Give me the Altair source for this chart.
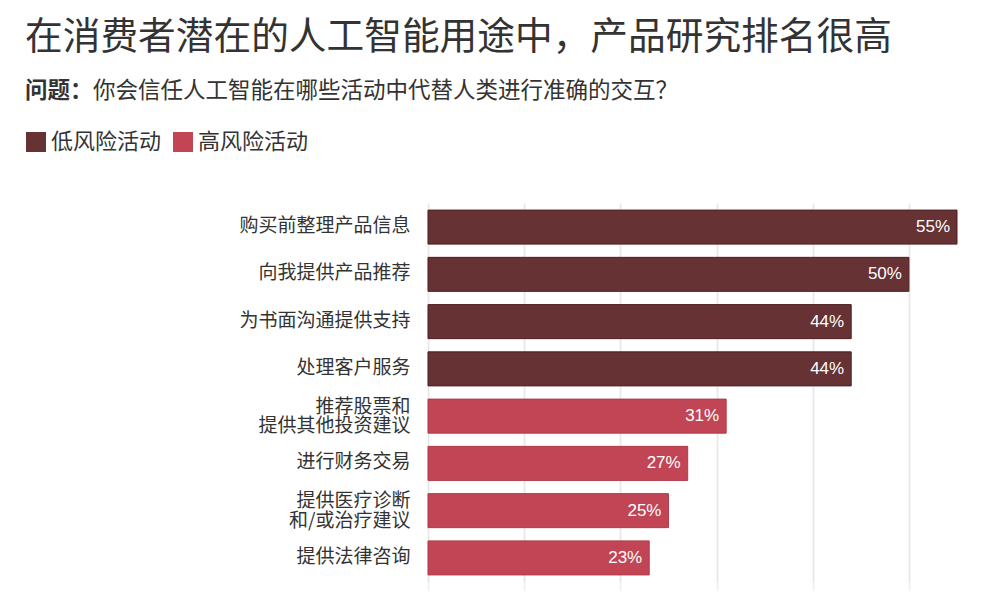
import altair as alt
import pandas as pd

# ---- data ----
categories = [
    "购买前整理产品信息",
    "向我提供产品推荐",
    "为书面沟通提供支持",
    "处理客户服务",
    "推荐股票和\n提供其他投资建议",
    "进行财务交易",
    "提供医疗诊断\n和/或治疗建议",
    "提供法律咨询",
]
values = [55, 50, 44, 44, 31, 27, 25, 23]
risk = ["低风险活动"] * 4 + ["高风险活动"] * 4
value_labels = ["55%", "50%", "44%", "44%", "31%", "27%", "25%", "23%"]
risk_levels = ["低风险活动", "高风险活动"]
risk_colors = ["#663234", "#c14554"]
risk_strokes = ["#4f1f23", "#b13a4a"]
grid_values = [0, 10, 20, 30, 40, 50]

title_text = "在消费者潜在的人工智能用途中，产品研究排名很高"
question_label = "问题："
question_text = "你会信任人工智能在哪些活动中代替人类进行准确的交互？"

df = pd.DataFrame({"category": categories, "value": values, "risk": risk, "label": value_labels})

CJK = "Noto Sans CJK SC"
TXT = "#333333"

y_enc = alt.Y(
    "category:N",
    sort=categories,
    title=None,
    scale=alt.Scale(paddingInner=0.28, paddingOuter=0.15),
    axis=alt.Axis(
        ticks=False,
        domain=False,
        grid=False,
        labelFont=CJK,
        labelFontSize=19,
        labelColor=TXT,
        labelPadding=18,
        labelLineHeight=19.5,
        labelLimit=400,
        labelOffset={"condition": {"test": "indexof(datum.value, '\\n') >= 0", "value": -9.5}, "value": -1},
        labelExpr="split(datum.label, '\\n')",
    ),
)

x_enc = alt.X(
    "value:Q",
    title=None,
    scale=alt.Scale(domain=[0, 55], nice=False, zero=True),
    axis=alt.Axis(
        values=grid_values,
        labels=False,
        domain=False,
        ticks=True,
        tickSize=8,
        tickColor="#eeeeee",
        tickWidth=1.5,
        grid=True,
        gridColor="#e8e8e8",
        gridWidth=1.8,
    ),
)

base = alt.Chart(df)

bars = base.mark_bar(strokeWidth=1).encode(
    x=x_enc,
    y=y_enc,
    color=alt.Color(
        "risk:N",
        scale=alt.Scale(domain=risk_levels, range=risk_colors),
        legend=alt.Legend(
            orient="none",
            legendX=-403,
            legendY=-72,
            direction="horizontal",
            title=None,
            symbolType="square",
            symbolSize=400,
            symbolStrokeWidth=0,
            symbolOpacity=1,
            labelFont=CJK,
            labelFontSize=22,
            labelColor=TXT,
            labelOffset=4,
            columnPadding=10,
        ),
    ),
    stroke=alt.Stroke(
        "risk:N",
        scale=alt.Scale(domain=risk_levels, range=risk_strokes),
        legend=None,
    ),
)

labels = base.mark_text(
    align="right", baseline="middle", dx=-7, color="white", fontSize=17, font="Liberation Sans"
).encode(x=alt.X("value:Q"), y=alt.Y("category:N", sort=categories), text="label:N")

title_mark = alt.Chart(pd.DataFrame({"t": [title_text]})).mark_text(
    align="left", baseline="middle", font=CJK, fontSize=37.7, color=TXT
).encode(text="t:N", x=alt.value(-403), y=alt.value(-165))

q_label = alt.Chart(pd.DataFrame({"t": [question_label]})).mark_text(
    align="left", baseline="middle", font=CJK, fontSize=22.5, fontWeight="bold", color=TXT
).encode(text="t:N", x=alt.value(-403), y=alt.value(-112))

q_text = alt.Chart(pd.DataFrame({"t": [question_text]})).mark_text(
    align="left", baseline="middle", font=CJK, fontSize=22.5, color=TXT
).encode(text="t:N", x=alt.value(-335), y=alt.value(-112))

chart = (
    alt.layer(bars, labels, title_mark, q_label, q_text)
    .properties(
        width=529,
        height=379,
        autosize=alt.AutoSizeParams(type="none"),
        padding={"left": 428, "top": 203, "right": 43, "bottom": 28},
        background="white",
    )
    .configure_view(stroke=None)
)

chart.save("out.html", embed_options={"renderer": "svg", "actions": False})
